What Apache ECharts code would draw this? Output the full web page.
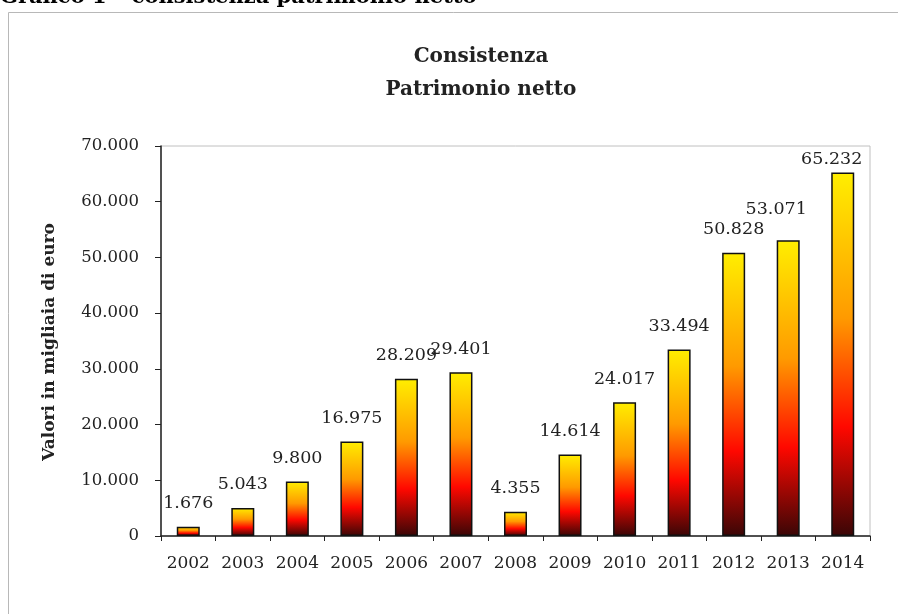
<!DOCTYPE html>
<html>
<head>
<meta charset="utf-8">
<script src="https://cdn.jsdelivr.net/npm/echarts@6/dist/echarts.min.js"></script>
<style>
  html, body { margin: 0; padding: 0; background: #fff; }
  #chart { width: 898px; height: 614px; }
</style>
</head>
<body>
<div id="chart"></div>
<script>
// anni
const years = ['2002', '2003', '2004', '2005', '2006', '2007', '2008', '2009', '2010', '2011', '2012', '2013', '2014']
// patrimonio netto, migliaia di euro
const values = [1676, 5043, 9800, 16975, 28209, 29401, 4355, 14614, 24017, 33494, 50828, 53071, 65232]
// spostamento etichette (solo dove nel grafico originale non stanno sopra la barra)
const labelShift = { '2013': [-12, -8], '2014': [-11, 10] }

const serif = 'DejaVu Serif'

function fmt(v) {
  return String(v).replace(/\B(?=(\d{3})+(?!\d))/g, '.')
}

const barColor = new echarts.graphic.LinearGradient(0, 0, 0, 1, [
  { offset: 0, color: '#ffee00' },
  { offset: 0.4, color: '#ff9a00' },
  { offset: 0.7, color: '#ff0800' },
  { offset: 1, color: '#3a0606' }
])

const chart = echarts.init(document.getElementById('chart'))

chart.setOption({
  animation: false,
  backgroundColor: '#fff',
  graphic: [
    {
      type: 'rect',
      shape: { x: 8.5, y: 12.5, width: 1000, height: 1000 },
      style: { fill: 'none', stroke: '#b8b8b8', lineWidth: 1 }
    },
    {
      type: 'text',
      x: 0, y: 8,
      style: {
        text: 'Grafico 1 – consistenza patrimonio netto',
        font: 'bold 21px "DejaVu Serif"',
        fill: '#000',
        verticalAlign: 'bottom'
      }
    },
    {
      type: 'text',
      x: 50, y: 342,
      rotation: Math.PI / 2,
      style: {
        text: 'Valori in migliaia di euro',
        font: 'bold 17px "DejaVu Serif"',
        fill: '#222',
        align: 'center',
        verticalAlign: 'middle'
      }
    }
  ],
  title: {
    text: 'Consistenza\nPatrimonio netto',
    left: 476,
    top: 35,
    textAlign: 'center',
    textStyle: { fontFamily: serif, fontSize: 20, fontWeight: 'bold', color: '#222', lineHeight: 33 }
  },
  grid: {
    left: 161, right: 28, top: 146, bottom: 78,
    show: true, borderColor: '#c0c0c0', borderWidth: 1
  },
  xAxis: {
    type: 'category',
    data: years,
    axisLine: { lineStyle: { color: '#222', width: 1.5 } },
    axisTick: { show: true, length: 5, lineStyle: { color: '#222' } },
    axisLabel: { fontFamily: serif, fontSize: 17, color: '#222', margin: 19, interval: 0 }
  },
  yAxis: {
    type: 'value',
    min: 0, max: 70000, interval: 10000,
    splitLine: { show: false },
    axisLine: { show: true, lineStyle: { color: '#222', width: 1.5 } },
    axisTick: { show: true, length: 6, lineStyle: { color: '#222' } },
    axisLabel: { fontFamily: serif, fontSize: 16.5, color: '#222', margin: 22, formatter: fmt }
  },
  series: [{
    type: 'bar',
    barWidth: 23,
    data: values.map((v, i) => {
      const item = { value: v }
      const shift = labelShift[years[i]]
      if (shift) item.label = { offset: shift }
      return item
    }),
    itemStyle: { color: barColor, borderColor: '#111', borderWidth: 1.5 },
    label: {
      show: true,
      position: 'top',
      distance: 14,
      fontFamily: serif,
      fontSize: 17.5,
      color: '#222',
      formatter: p => fmt(p.value)
    }
  }]
})
</script>
</body>
</html>
